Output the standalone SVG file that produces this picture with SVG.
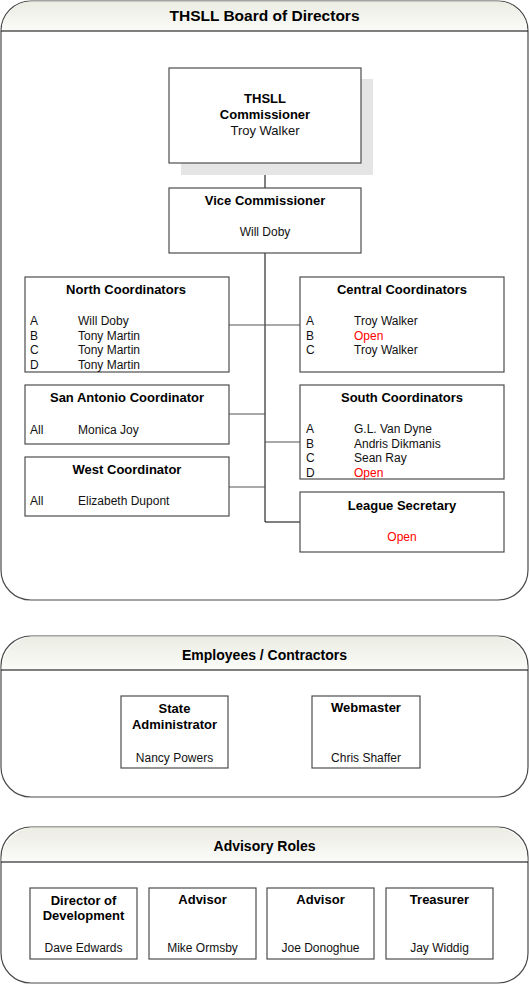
<svg xmlns="http://www.w3.org/2000/svg" width="529" height="985" viewBox="0 0 529 985">
<defs>
<linearGradient id="hdr" x1="0" y1="0" x2="0" y2="1">
<stop offset="0" stop-color="#ebece2"/>
<stop offset="1" stop-color="#fbfbf9"/>
</linearGradient>
<style>
.cont{fill:#fff;stroke:#4a4a4a;stroke-width:1.2}
.hd{fill:url(#hdr);stroke:none}
.hl{stroke:#000;stroke-width:1.2}
.box{fill:#fff;stroke:#4d4d4d;stroke-width:1.2}
.ct{font-family:"Liberation Sans",Arial,sans-serif;font-weight:bold;font-size:14px;fill:#000;text-anchor:middle}
.bt{font-family:"Liberation Sans",Arial,sans-serif;font-weight:bold;font-size:13px;fill:#000;text-anchor:middle}
.nm{font-family:"Liberation Sans",Arial,sans-serif;font-size:12px;fill:#111}
.mid{text-anchor:middle}
.red{fill:#ff0000}
.cn{stroke:#000;stroke-width:1;fill:none}
.cg{stroke:#555;stroke-width:1.2;fill:none}
</style>
</defs>

<!-- Containers -->
<g id="board">
<rect class="cont" x="1" y="1" width="527" height="599" rx="30" ry="30"/>
<path class="hd" d="M1.6,31 L1.6,31 A29.4,29.4 0 0 1 31,1.6 L498,1.6 A29.4,29.4 0 0 1 527.4,31 Z"/>
<line class="hl" x1="1" y1="31" x2="528" y2="31"/>
<text class="ct" x="264.5" y="21" style="font-size:15.5px">THSLL Board of Directors</text>
</g>
<g id="employees">
<rect class="cont" x="1" y="636" width="527" height="161" rx="30" ry="30"/>
<path class="hd" d="M1.6,670 A33,33 0 0 1 31,636.6 L498,636.6 A33,33 0 0 1 527.4,670 Z"/>
<line class="hl" x1="1" y1="670" x2="528" y2="670"/>
<text class="ct" x="264.5" y="659.5">Employees / Contractors</text>
</g>
<g id="advisory">
<rect class="cont" x="1" y="827" width="527" height="156" rx="30" ry="30"/>
<path class="hd" d="M1.6,862 A33,33 0 0 1 31,827.6 L498,827.6 A33,33 0 0 1 527.4,862 Z"/>
<line class="hl" x1="1" y1="862" x2="528" y2="862"/>
<text class="ct" x="264.5" y="851">Advisory Roles</text>
</g>

<!-- Connectors -->
<g id="connectors">
<line class="cn" x1="265" y1="163" x2="265" y2="188"/>
<polyline class="cn" points="265,253 265,522 300,522"/>
<line class="cg" x1="229" y1="325" x2="300" y2="325"/>
<line class="cg" x1="229" y1="414" x2="265" y2="414"/>
<line class="cg" x1="265" y1="442" x2="300" y2="442"/>
<line class="cg" x1="229" y1="487" x2="265" y2="487"/>
</g>

<!-- Nodes -->
<g id="commissioner">
<rect x="181" y="79" width="192" height="96" fill="#e5e5e5"/>
<rect class="box" x="169" y="68" width="192" height="95"/>
<text class="bt" x="265" y="102.5">THSLL</text>
<text class="bt" x="265" y="118.5">Commissioner</text>
<text class="nm mid" x="265" y="134.5" style="font-size:13px">Troy Walker</text>
</g>
<g id="vice-commissioner">
<rect class="box" x="169" y="188" width="192" height="65"/>
<text class="bt" x="265" y="205">Vice Commissioner</text>
<text class="nm mid" x="265" y="236">Will Doby</text>
</g>
<g id="north">
<rect class="box" x="25" y="277" width="204" height="95"/>
<text class="bt" x="126" y="293.5">North Coordinators</text>
<text class="nm" x="30" y="325">A</text><text class="nm" x="78" y="325">Will Doby</text>
<text class="nm" x="30" y="339.5">B</text><text class="nm" x="78" y="339.5">Tony Martin</text>
<text class="nm" x="30" y="354">C</text><text class="nm" x="78" y="354">Tony Martin</text>
<text class="nm" x="30" y="368.5">D</text><text class="nm" x="78" y="368.5">Tony Martin</text>
</g>
<g id="central">
<rect class="box" x="300" y="277" width="204" height="95"/>
<text class="bt" x="402" y="293.5">Central Coordinators</text>
<text class="nm" x="306" y="325">A</text><text class="nm" x="354" y="325">Troy Walker</text>
<text class="nm" x="306" y="339.5">B</text><text class="nm red" x="354" y="339.5">Open</text>
<text class="nm" x="306" y="354">C</text><text class="nm" x="354" y="354">Troy Walker</text>
</g>
<g id="san-antonio">
<rect class="box" x="25" y="385" width="204" height="59"/>
<text class="bt" x="127" y="401.5">San Antonio Coordinator</text>
<text class="nm" x="30" y="433.5">All</text><text class="nm" x="78" y="433.5">Monica Joy</text>
</g>
<g id="south">
<rect class="box" x="300" y="385" width="204" height="94"/>
<text class="bt" x="402" y="401.5">South Coordinators</text>
<text class="nm" x="306" y="433">A</text><text class="nm" x="354" y="433">G.L. Van Dyne</text>
<text class="nm" x="306" y="447.5">B</text><text class="nm" x="354" y="447.5">Andris Dikmanis</text>
<text class="nm" x="306" y="462">C</text><text class="nm" x="354" y="462">Sean Ray</text>
<text class="nm" x="306" y="476.5">D</text><text class="nm red" x="354" y="476.5">Open</text>
</g>
<g id="west">
<rect class="box" x="25" y="457" width="204" height="59"/>
<text class="bt" x="127" y="473.5">West Coordinator</text>
<text class="nm" x="30" y="504.5">All</text><text class="nm" x="78" y="504.5">Elizabeth Dupont</text>
</g>
<g id="league-secretary">
<rect class="box" x="300" y="492" width="204" height="60"/>
<text class="bt" x="402" y="510">League Secretary</text>
<text class="nm mid red" x="402" y="541">Open</text>
</g>
<g id="state-administrator">
<rect class="box" x="121" y="696" width="107" height="72"/>
<text class="bt" x="174.5" y="712.5">State</text>
<text class="bt" x="174.5" y="728.5">Administrator</text>
<text class="nm mid" x="174.5" y="761.5">Nancy Powers</text>
</g>
<g id="webmaster">
<rect class="box" x="312" y="696" width="108" height="72"/>
<text class="bt" x="366" y="711.5">Webmaster</text>
<text class="nm mid" x="366" y="761.5">Chris Shaffer</text>
</g>
<g id="director-development">
<rect class="box" x="30" y="888" width="107" height="71"/>
<text class="bt" x="83.5" y="904.5">Director of</text>
<text class="bt" x="83.5" y="920">Development</text>
<text class="nm mid" x="83.5" y="952">Dave Edwards</text>
</g>
<g id="advisor-1">
<rect class="box" x="149" y="888" width="107" height="71"/>
<text class="bt" x="202.5" y="904">Advisor</text>
<text class="nm mid" x="202.5" y="952">Mike Ormsby</text>
</g>
<g id="advisor-2">
<rect class="box" x="267" y="888" width="107" height="71"/>
<text class="bt" x="320.5" y="904">Advisor</text>
<text class="nm mid" x="320.5" y="952">Joe Donoghue</text>
</g>
<g id="treasurer">
<rect class="box" x="386" y="888" width="107" height="71"/>
<text class="bt" x="439.5" y="904">Treasurer</text>
<text class="nm mid" x="439.5" y="952">Jay Widdig</text>
</g>
</svg>
